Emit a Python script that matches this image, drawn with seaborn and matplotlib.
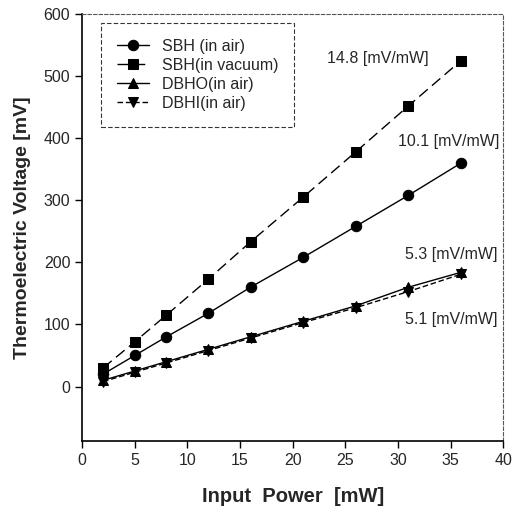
import pandas as pd
import matplotlib.pyplot as plt
import seaborn as sns

# input power [mW] and thermoelectric voltage [mV]
power = [2, 5, 8, 12, 16, 21, 26, 31, 36]
sbh_air = [20, 50, 80, 118, 160, 208, 258, 308, 360]
sbh_vac = [30, 72, 115, 173, 233, 305, 378, 452, 525]
dbho_air = [10, 25, 40, 60, 80, 105, 130, 160, 184]
dbhi_air = [8, 23, 38, 58, 78, 103, 127, 153, 181]

series = ['SBH (in air)', 'SBH(in vacuum)', 'DBHO(in air)', 'DBHI(in air)']
slopes = ['10.1 [mV/mW]', '14.8 [mV/mW]', '5.3 [mV/mW]', '5.1 [mV/mW]']

df = pd.DataFrame({
    'power': power * 4,
    'voltage': sbh_air + sbh_vac + dbho_air + dbhi_air,
    'sample': [s for s in series for _ in power],
})

sns.set_style('ticks')
plt.rcParams['font.family'] = ['Liberation Sans', 'DejaVu Sans']

fig = plt.figure(figsize=(5.13, 5.16), dpi=100)
ax = fig.add_axes([0.160, 0.145, 0.821, 0.828])

styles = {
    'SBH (in air)': ('o', None),
    'SBH(in vacuum)': ('s', (8, 4)),
    'DBHO(in air)': ('^', None),
    'DBHI(in air)': ('v', (4, 2)),
}
for name in series:
    m, d = styles[name]
    sub = df[df['sample'] == name]
    sns.lineplot(data=sub, x='power', y='voltage', ax=ax, color='black',
                 marker=m, markersize=7.5, linewidth=1.0, label=name,
                 markeredgecolor='black')
    if d is not None:
        ax.lines[-1].set_dashes(d)

ax.set_xlim(0, 40)
ax.set_ylim(-88, 600)
ax.set_xticks(range(0, 41, 5))
ax.set_yticks(range(0, 601, 100))
ax.tick_params(direction='out', length=5, width=1, labelsize=11.5, color='black')
for side in ['left', 'bottom']:
    ax.spines[side].set_color('black')
    ax.spines[side].set_linewidth(1.2)
for side in ['top', 'right']:
    ax.spines[side].set_visible(True)
    ax.spines[side].set_color('#555555')
    ax.spines[side].set_linestyle((0, (3, 2)))
    ax.spines[side].set_linewidth(0.8)

ax.set_xlabel('Input  Power  [mW]', fontsize=14.5, fontweight='bold', labelpad=14)
ax.set_ylabel('Thermoelectric Voltage [mV]', fontsize=14, fontweight='bold', labelpad=9)

# slope annotations
ax.text(28.1, 529, slopes[1], fontsize=11.5, ha='center', va='center')
ax.text(34.8, 394, slopes[0], fontsize=11.5, ha='center', va='center')
ax.text(35.1, 212, slopes[2], fontsize=11.5, ha='center', va='center')
ax.text(35.1, 108, slopes[3], fontsize=11.5, ha='center', va='center')

leg = ax.legend(loc='upper left', bbox_to_anchor=(0.045, 0.979), frameon=True,
                fancybox=False, edgecolor='black', fontsize=11.5, handlelength=2.0,
                borderpad=1.0, labelspacing=0.25, borderaxespad=0.0)
leg.get_frame().set_linewidth(0.8)
leg.get_frame().set_linestyle((0, (4, 2)))

fig.savefig('out.png', dpi=100)
